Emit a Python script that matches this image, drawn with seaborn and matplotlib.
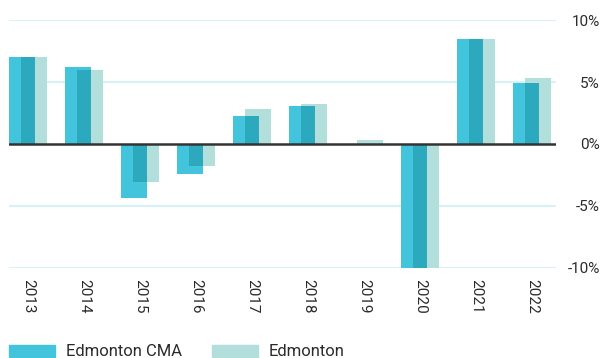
import numpy as np
import pandas as pd
import matplotlib
matplotlib.use("Agg")
import matplotlib.pyplot as plt
import matplotlib.patches as mpatches
import seaborn as sns

# Annual growth, percent
years = ["2013", "2014", "2015", "2016", "2017", "2018", "2019", "2020", "2021", "2022"]
edmonton_cma = [7.0, 6.2, -4.4, -2.4, 2.3, 3.1, 0.0, -10.0, 8.5, 4.9]
edmonton = [7.0, 6.0, -3.1, -1.8, 2.8, 3.2, 0.3, -10.0, 8.5, 5.3]
y_ticks = [-10, -5, 0, 5, 10]

CMA_COLOR = "#42C4DC"
CITY_COLOR = "#B2DFDC"
OVERLAP_COLOR = "#2DA9BD"
GRID_COLOR = "#D6F1F7"
TEXT_COLOR = "#2b2b2b"

sns.set_theme(style="white")
plt.rcParams["font.family"] = ["Roboto", "DejaVu Sans"]

cma = np.array(edmonton_cma)
city = np.array(edmonton)
same_sign = np.sign(cma) == np.sign(city)
overlap = np.where(same_sign, np.sign(cma) * np.minimum(np.abs(cma), np.abs(city)), 0.0)

idx = np.arange(len(years))
shift = 6 / 56
bar_w = 26 / 56
ov_w = bar_w - 2 * shift

fig = plt.figure(figsize=(6.04, 3.58), dpi=100)
ax = fig.add_axes([9 / 604, (358 - 267.7) / 358, 547 / 604, 247.4 / 358])

for y in y_ticks:
    if y != 0:
        ax.axhline(y, color=GRID_COLOR, lw=1.5, zorder=0)

sns.barplot(x=idx - shift, y=cma, native_scale=True, width=bar_w, color=CMA_COLOR,
            saturation=1, linewidth=0, ax=ax, zorder=2)
sns.barplot(x=idx + shift, y=city, native_scale=True, width=bar_w, color=CITY_COLOR,
            saturation=1, linewidth=0, ax=ax, zorder=2)
sns.barplot(x=idx, y=overlap, native_scale=True, width=ov_w, color=OVERLAP_COLOR,
            saturation=1, linewidth=0, ax=ax, zorder=3)

ax.axhline(0, color="#333333", lw=1.8, zorder=4)

ax.set_xlim((9 - 28) / 56, (556 - 28) / 56)
ax.set_ylim(-10, 10)
ax.set_xticks(idx)
ax.set_xticklabels(years, rotation=270, va="top", ha="center", fontsize=11, color=TEXT_COLOR)
ax.yaxis.tick_right()
ax.set_yticks(y_ticks)
ax.set_yticklabels([f"{t}%" for t in y_ticks], fontsize=11, color=TEXT_COLOR, ha="right")
ax.tick_params(axis="x", length=0, pad=8)
ax.tick_params(axis="y", length=0, pad=31.7)
ax.set_xlabel("")
ax.set_ylabel("")
for s in ax.spines.values():
    s.set_visible(False)
ax.grid(False)

leg_kw = dict(frameon=False, fontsize=12, handlelength=2.78, handleheight=0.7,
              handletextpad=0.62, borderpad=0, borderaxespad=0, loc="center left")
leg1 = fig.legend(handles=[mpatches.Patch(color=CMA_COLOR, label="Edmonton CMA")],
                  bbox_to_anchor=(9 / 604, 6 / 358), **leg_kw)
leg2 = fig.legend(handles=[mpatches.Patch(color=CITY_COLOR, label="Edmonton")],
                  bbox_to_anchor=(212 / 604, 6 / 358), **leg_kw)
for leg in (leg1, leg2):
    for t in leg.get_texts():
        t.set_color(TEXT_COLOR)

fig.savefig("out.png", dpi=100)
